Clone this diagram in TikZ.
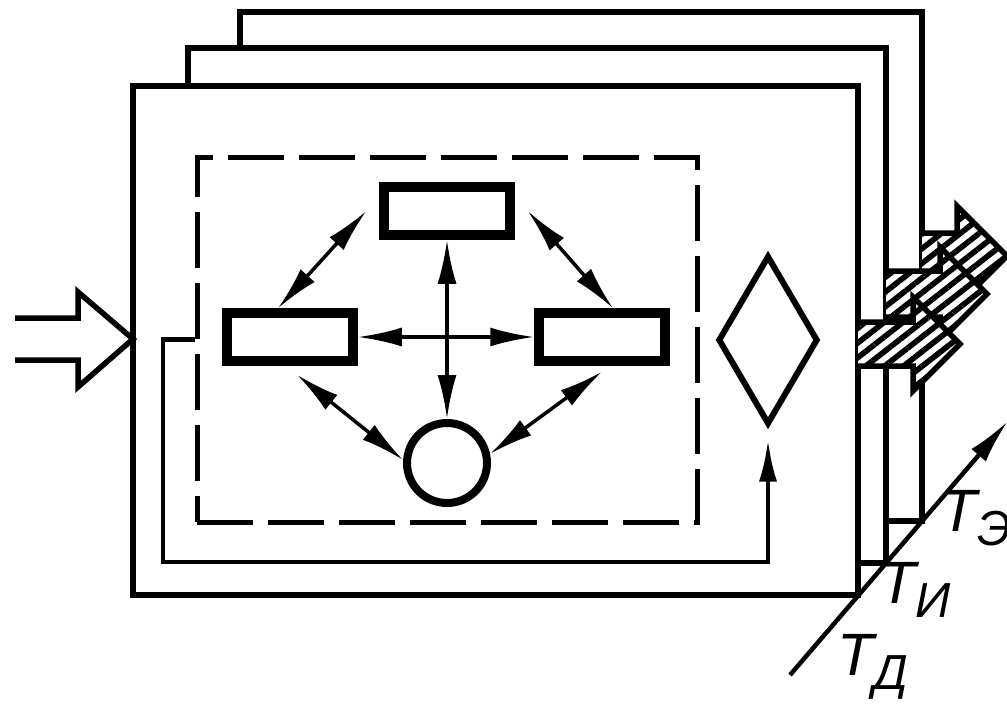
\documentclass[tikz,border=0pt]{standalone}
\usepackage{fontspec}
\newfontfamily\lblfont{Liberation Sans}
\usetikzlibrary{arrows.meta,shapes.geometric,patterns.meta}
\newcommand{\lblsub}[1]{\raisebox{-0.45ex}{\fontsize{14}{14}\selectfont #1}}
\tikzset{
  frame/.style={line width=0.55mm, fill=white},
  blk/.style={draw, line width=0.95mm, minimum width=12.6mm, minimum height=4.8mm, inner sep=0pt},
  dbl/.style={line width=0.35mm, {Latex[length=4.4mm,width=1.9mm]}-{Latex[length=4.4mm,width=1.9mm]}},
  hatched/.style={line width=0.55mm, preaction={fill=white}, pattern={Lines[angle=38,distance=3.3pt,line width=1.6pt]}},
  lbl/.style={font=\lblfont\itshape\fontsize{17}{17}\selectfont, inner sep=0pt}
}
\begin{document}
\begin{tikzpicture}[x=0.1mm, y=-0.1mm]
  \useasboundingbox (0,0) rectangle (1007,704);
  % frames, back to front
  \draw[frame] (240,12) rectangle (922,521);
  \draw[frame] (188,48) rectangle (886,563);
  \draw[frame] (133,86) rectangle (858,595);
  % output arrows
  \draw[hatched] (922,233) -- (957,233) -- (957,206) -- (1007,256) -- (957,306) -- (957,279) -- (922,279);
  \draw[hatched] (886,271) -- (940,271) -- (940,247) -- (987,294) -- (940,341) -- (940,317) -- (886,317);
  \draw[hatched] (858,322) -- (913,322) -- (913,297) -- (960,344) -- (913,391) -- (913,366) -- (858,366);
  % input arrow
  \draw[line width=0.55mm] (15,318) -- (78,318) -- (78,292) -- (133,339) -- (78,387) -- (78,360) -- (15,360);
  % inner structure
  \node[draw, line width=0.5mm, dash pattern=on 5.6mm off 1.5mm, minimum width=50mm, minimum height=36.5mm, inner sep=0pt] (core) at (447,339.5) {};
  \node[blk] (top) at (447,211) {};
  \node[blk] (lft) at (290,337) {};
  \node[blk] (rgt) at (602,337) {};
  \node[draw, circle, line width=0.8mm, minimum size=8.0mm, inner sep=0pt] (circ) at (447,463) {};
  \node[draw, diamond, line width=0.6mm, minimum width=10mm, minimum height=16.9mm, inner sep=0pt] (dia) at (768,340) {};
  \draw[dbl] ([xshift=-1.3mm]top.west) -- ([xshift=-1.2mm]lft.north);
  \draw[dbl] ([xshift=1.3mm]top.east) -- ([xshift=1.1mm]rgt.north);
  \draw[dbl] (top.south) -- (circ.north);
  \draw[dbl] (lft.east) -- (rgt.west);
  \draw[dbl] ([xshift=0.7mm,yshift=-0.9mm]lft.south) -- (circ.176);
  \draw[dbl] ([yshift=-0.6mm]rgt.south) -- (circ.12);
  % feedback
  \coordinate (fbL) at (163,562);
  \draw[line width=0.45mm, -{Latex[length=4.2mm,width=1.8mm]}] (core.west) -| (fbL) -| ([yshift=-1.2mm]dia.south);
  % time axis
  \draw[line width=0.45mm, -{Latex[length=4.5mm,width=1.9mm]}] (790,675) -- (1008,421);
  \node[lbl] (tD) at (873,667) {T\lblsub{Д}};
  \node[lbl] (tI) at (915,590) {T\lblsub{И}};
  \node[lbl] (tE) at (976,518) {T\lblsub{Э}};
\end{tikzpicture}
\end{document}
